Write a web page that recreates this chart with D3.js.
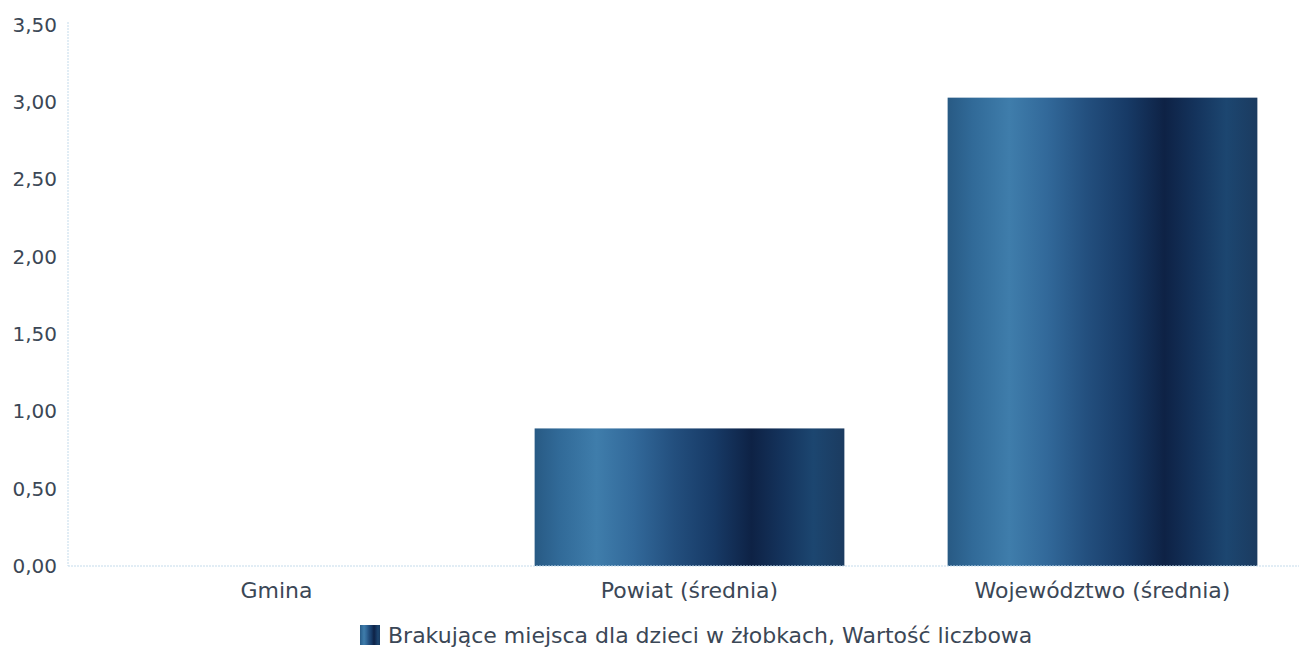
<!DOCTYPE html>
<html><head><meta charset="utf-8">
<script src="https://cdn.jsdelivr.net/npm/d3@7"></script>
<style>body{margin:0;background:#fff}svg{display:block}text{font-family:"DejaVu Sans",sans-serif;fill:#3b4756}</style>
</head><body><svg id="c" width="1303" height="652"></svg>
<script>
const categories = ["Gmina", "Powiat (średnia)", "Województwo (średnia)"];
const values = [0, 0.89, 3.03];
const yTicks = [0, 0.5, 1, 1.5, 2, 2.5, 3, 3.5];
const seriesName = "Brakujące miejsca dla dzieci w żłobkach, Wartość liczbowa";

const svg = d3.select("#c");
const W = 1303, H = 652;
const m = {left: 70, right: -6, top: 25, bottom: 86};
const x = d3.scaleBand().domain(categories).range([m.left, W - m.right]).paddingInner(0.25).paddingOuter(0.125);
const y = d3.scaleLinear().domain([0, 3.5]).range([H - m.bottom, m.top]);

const defs = svg.append("defs");
const g = defs.append("linearGradient").attr("id", "bar").attr("x1", "0").attr("x2", "1").attr("y1", "0").attr("y2", "0");
[[0, "#285a84"], [0.08, "#316a98"], [0.2, "#3f7dab"], [0.32, "#32699a"], [0.45, "#234f7e"], [0.58, "#173a66"], [0.7, "#0e2245"], [0.8, "#14335c"], [0.9, "#1c4670"], [1, "#1b3b60"]]
  .forEach(([o, c]) => g.append("stop").attr("offset", o).attr("stop-color", c));

const fmt = d => d3.format(".2f")(d).replace(".", ",");

// y axis
const ya = svg.append("g").attr("transform", `translate(${m.left - 2},0)`)
  .call(d3.axisLeft(y).tickValues(yTicks).tickFormat(fmt).tickSize(0).tickPadding(11));
ya.select(".domain").attr("stroke", "#c4dbeb").attr("stroke-dasharray", "2,1").attr("d", `M0,${y(3.5) - 3}V${y(0)}`);
ya.selectAll("text").style("font-size", "20px").attr("fill", "#3b4756");

// bars
svg.append("g").selectAll("rect").data(values).join("rect")
  .attr("x", (d, i) => x(categories[i]))
  .attr("width", x.bandwidth())
  .attr("y", d => y(d))
  .attr("height", d => y(0) - y(d))
  .attr("fill", "url(#bar)");

// x axis
const xa = svg.append("g").attr("transform", `translate(0,${y(0)})`)
  .call(d3.axisBottom(x).tickSize(0).tickPadding(16));
xa.select(".domain").attr("stroke", "#c4dbeb").attr("stroke-dasharray", "2,1").attr("d", `M${m.left - 2},0H${W - 4}`);
xa.selectAll("text").style("font-size", "22px").attr("fill", "#3b4756");

// legend
const lg = svg.append("g").attr("transform", "translate(360,625)");
lg.append("rect").attr("width", 20).attr("height", 20).attr("fill", "url(#bar)");
lg.append("text").attr("x", 28).attr("y", 18).style("font-size", "22px").text(seriesName);
</script></body></html>
